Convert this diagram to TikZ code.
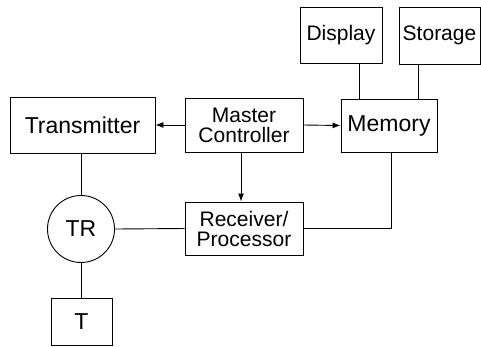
\documentclass[tikz,border=0pt]{standalone}
\usepackage{fontspec}
\setmainfont{Liberation Sans}
\usetikzlibrary{positioning, calc, arrows.meta}
\tikzset{
    box/.style={rectangle, draw=black, line width=0.9pt, align=center, inner sep=0pt, font=\fontsize{23}{24}\selectfont},
    smallbox/.style={box, font=\fontsize{21}{20}\selectfont},
    ring/.style={circle, draw=black, line width=0.9pt, inner sep=0pt, minimum size=67pt, font=\fontsize{23}{24}\selectfont},
    arrow/.style={-{Latex[length=8pt,width=6pt]}, line width=0.9pt},
    link/.style={line width=0.9pt},
}
\begin{document}
\begin{tikzpicture}[x=1pt, y=-1pt]
    \useasboundingbox (0,0) rectangle (481,346);

    % Blocchi principali
    \node[box, minimum width=145pt, minimum height=56pt] (trans) at (82.5,125) {Transmitter};
    \node[smallbox, minimum width=118pt, minimum height=54pt] (master) at (244,125) {Master\\Controller};
    \node[box, minimum width=96pt, minimum height=53pt] (mem) at (389,125.5) {Memory};
    \node[smallbox, minimum width=82pt, minimum height=56pt] (disp) at (341,35) {Display};
    \node[smallbox, minimum width=81pt, minimum height=57pt] (stor) at (439.5,35.5) {Storage};
    \node[ring] (tr) at (81,229) {TR};
    \node[smallbox, minimum width=118pt, minimum height=53pt] (recv) at (244,228.5) {Receiver/\\Processor};
    \node[box, minimum width=61pt, minimum height=47pt] (tnode) at (81.5,321.5) {T};

    % Frecce dal controllore
    \draw[arrow] (master.west) -- (trans.east);
    \draw[arrow] (master.east) -- (mem.west);
    \draw[arrow] ([xshift=-3pt]master.south) -- ([xshift=-3pt]recv.north);

    % Collegamenti memoria
    \draw[link] ([xshift=18pt]disp.south) -- ([xshift=18pt]disp.south |- mem.north);
    \draw[link] ([xshift=-21.5pt]stor.south) -- ([xshift=-21.5pt]stor.south |- mem.north);
    \draw[link] ([xshift=2pt]mem.south) |- (recv.east);

    % Antenna
    \draw[link] (trans.south -| tr.north) -- (tr.north);
    \draw[link] (tr.east) -- (recv.west);
    \draw[link] (tr.south) -- (tr.south |- tnode.north);
\end{tikzpicture}
\end{document}
